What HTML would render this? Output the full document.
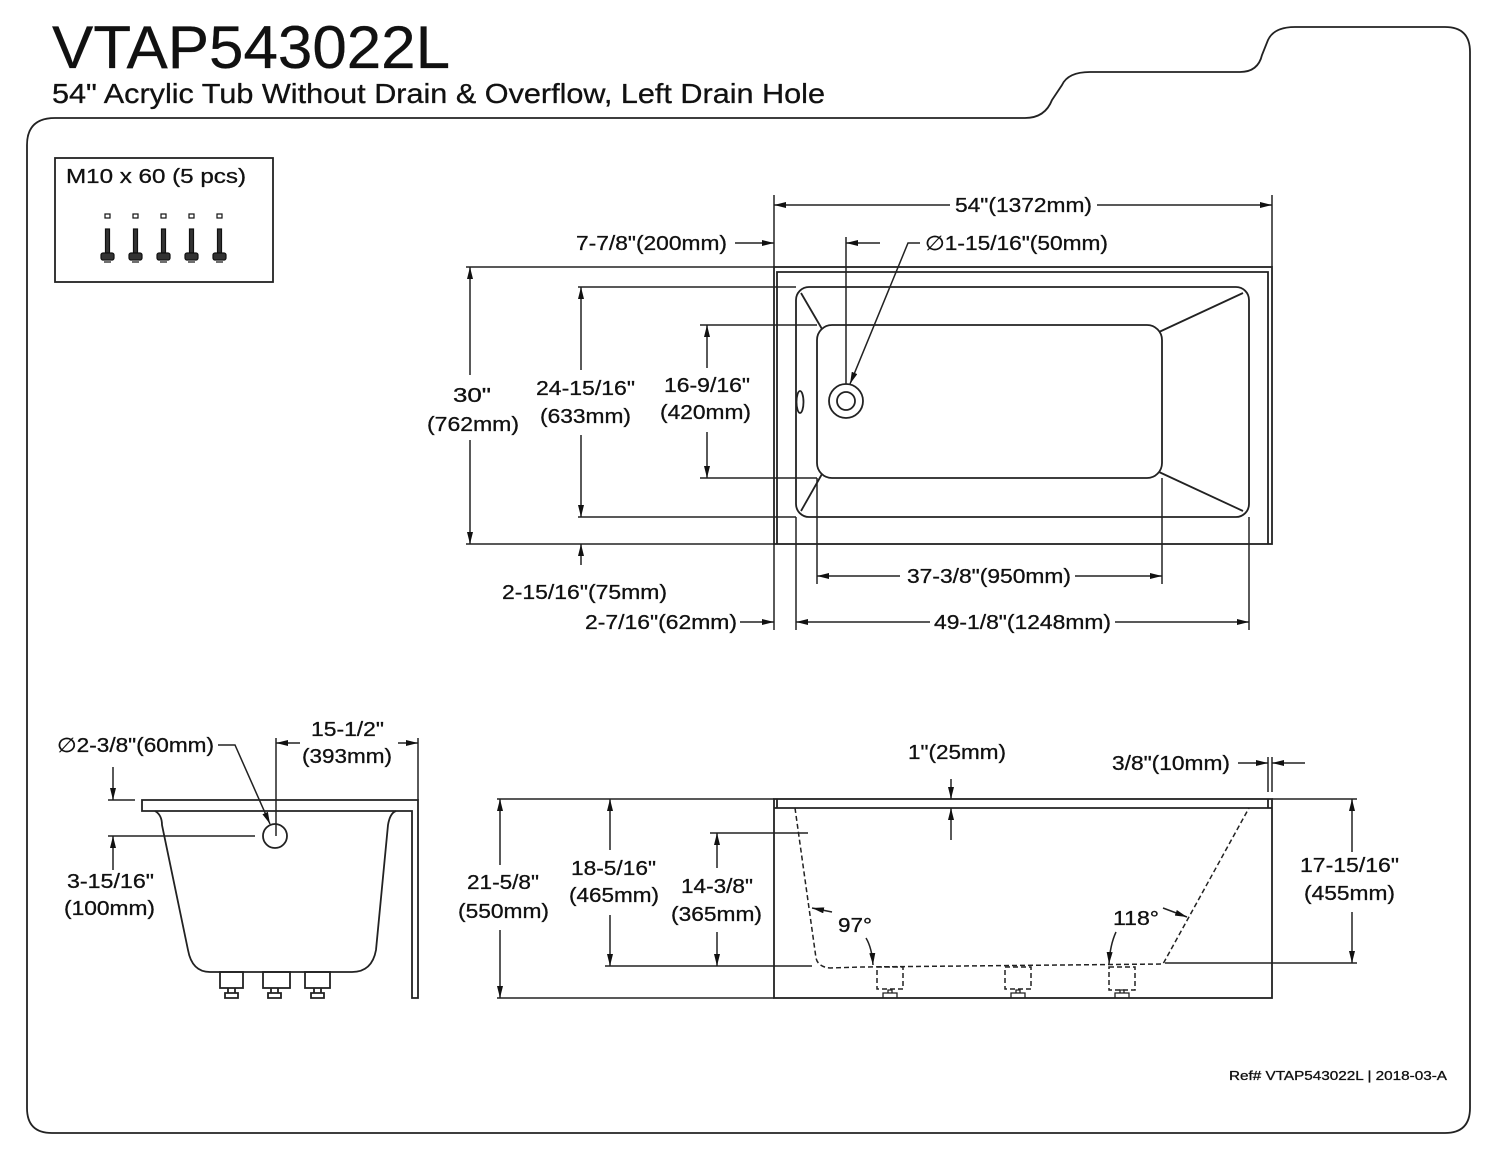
<!DOCTYPE html>
<html><head><meta charset="utf-8"><style>
html,body{margin:0;padding:0;background:#fff;}
svg{display:block;}
text{font-family:"Liberation Sans",sans-serif;fill:#111;stroke:#111;stroke-width:0.3;}
</style></head><body>
<svg width="1500" height="1160" viewBox="0 0 1500 1160" xmlns="http://www.w3.org/2000/svg">
<defs>
<marker id="a" viewBox="0 0 12 6" refX="12" refY="3" markerWidth="12" markerHeight="6" markerUnits="userSpaceOnUse" orient="auto"><path d="M0,0 L12,3 L0,6 Z" fill="#111"/></marker>
</defs>
<g stroke="#222" stroke-width="1.8" fill="none">
<path d="M27,1108 L27,145 Q27,118 55,118 L1025,118 Q1045,118 1052,100 L1062,85 Q1068,72 1090,72 L1240,72 Q1258,72 1262,55 L1268,40 Q1274,27 1295,27 L1445,27 Q1470,27 1470,52 L1470,1108 Q1470,1133 1445,1133 L52,1133 Q27,1133 27,1108 Z"/>
<rect x="55" y="158" width="218" height="124"/>
</g>
<text x="66" y="183" font-size="20" textLength="180" lengthAdjust="spacingAndGlyphs">M10 x 60 (5 pcs)</text>
<g stroke="#111" stroke-width="1.2" fill="#333">
<g id="b"><rect x="105" y="214" width="5" height="4" fill="#fff"/><rect x="105.5" y="229" width="4" height="24"/><rect x="101" y="253" width="13" height="7" rx="2"/><line x1="104" y1="262" x2="111" y2="262"/></g>
<use href="#b" x="28"/><use href="#b" x="56"/><use href="#b" x="84"/><use href="#b" x="112"/>
</g>

<text x="52" y="68" font-size="60" textLength="398" lengthAdjust="spacingAndGlyphs">VTAP543022L</text>
<text x="52" y="103" font-size="28" textLength="773" lengthAdjust="spacingAndGlyphs">54" Acrylic Tub Without Drain &amp; Overflow, Left Drain Hole</text>

<g stroke="#222" stroke-width="1.8" fill="none">
<rect x="774" y="267" width="498" height="277"/>
<path d="M777,544 L777,272 L1268,272 L1268,544"/>
<rect x="796" y="287" width="453" height="230" rx="13"/>
<rect x="817" y="325" width="345" height="153" rx="15"/>
<line x1="801" y1="293" x2="822" y2="329"/>
<line x1="801" y1="511" x2="822" y2="474"/>
<line x1="1243" y1="293" x2="1159" y2="332"/>
<line x1="1243" y1="511" x2="1159" y2="472"/>
<circle cx="846" cy="401" r="17"/>
<circle cx="846" cy="401" r="9"/>
<ellipse cx="800" cy="402" rx="3.5" ry="11"/>
</g>
<g stroke="#222" stroke-width="1.5" fill="none">
<line x1="774" y1="195" x2="774" y2="267"/><line x1="1272" y1="195" x2="1272" y2="267"/>
<line x1="774" y1="544" x2="774" y2="630"/>
<line x1="466" y1="267" x2="774" y2="267"/><line x1="466" y1="544" x2="774" y2="544"/>
<line x1="578" y1="287" x2="796" y2="287"/><line x1="578" y1="517" x2="796" y2="517"/>
<line x1="700" y1="325" x2="817" y2="325"/><line x1="700" y1="478" x2="817" y2="478"/>
<line x1="796" y1="517" x2="796" y2="630"/><line x1="1249" y1="517" x2="1249" y2="630"/>
<line x1="817" y1="478" x2="817" y2="584"/><line x1="1162" y1="478" x2="1162" y2="584"/>
<line x1="846" y1="237" x2="846" y2="384"/>
<line x1="950" y1="205" x2="774" y2="205" marker-end="url(#a)"/><line x1="1097" y1="205" x2="1272" y2="205" marker-end="url(#a)"/>
<line x1="735" y1="243" x2="774" y2="243" marker-end="url(#a)"/>
<line x1="880" y1="243" x2="846" y2="243" marker-end="url(#a)"/>
<path d="M920,243 L908,243 L850,384" marker-end="url(#a)"/>
<line x1="470" y1="375" x2="470" y2="267" marker-end="url(#a)"/><line x1="470" y1="440" x2="470" y2="544" marker-end="url(#a)"/>
<line x1="581" y1="370" x2="581" y2="287" marker-end="url(#a)"/><line x1="581" y1="435" x2="581" y2="517" marker-end="url(#a)"/>
<line x1="581" y1="565" x2="581" y2="544" marker-end="url(#a)"/>
<line x1="707" y1="368" x2="707" y2="325" marker-end="url(#a)"/><line x1="707" y1="432" x2="707" y2="478" marker-end="url(#a)"/>
<line x1="900" y1="576" x2="817" y2="576" marker-end="url(#a)"/><line x1="1075" y1="576" x2="1162" y2="576" marker-end="url(#a)"/>
<line x1="930" y1="622" x2="796" y2="622" marker-end="url(#a)"/><line x1="1115" y1="622" x2="1249" y2="622" marker-end="url(#a)"/>
<line x1="740" y1="622" x2="774" y2="622" marker-end="url(#a)"/>
</g>
<g font-size="20">
<text x="955" y="212" textLength="137" lengthAdjust="spacingAndGlyphs">54"(1372mm)</text>
<text x="576" y="250" textLength="151" lengthAdjust="spacingAndGlyphs">7-7/8"(200mm)</text>
<text x="925" y="250" textLength="183" lengthAdjust="spacingAndGlyphs">∅1-15/16"(50mm)</text>
<text x="453" y="402" textLength="38" lengthAdjust="spacingAndGlyphs">30"</text>
<text x="427" y="431" textLength="92" lengthAdjust="spacingAndGlyphs">(762mm)</text>
<text x="536" y="395" textLength="99" lengthAdjust="spacingAndGlyphs">24-15/16"</text>
<text x="540" y="423" textLength="91" lengthAdjust="spacingAndGlyphs">(633mm)</text>
<text x="664" y="392" textLength="86" lengthAdjust="spacingAndGlyphs">16-9/16"</text>
<text x="660" y="419" textLength="91" lengthAdjust="spacingAndGlyphs">(420mm)</text>
<text x="502" y="599" textLength="165" lengthAdjust="spacingAndGlyphs">2-15/16"(75mm)</text>
<text x="907" y="583" textLength="164" lengthAdjust="spacingAndGlyphs">37-3/8"(950mm)</text>
<text x="585" y="629" textLength="152" lengthAdjust="spacingAndGlyphs">2-7/16"(62mm)</text>
<text x="934" y="629" textLength="177" lengthAdjust="spacingAndGlyphs">49-1/8"(1248mm)</text>
</g>

<g stroke="#222" stroke-width="1.8" fill="none">
<path d="M142,800 L418,800 L418,998 L412,998 L412,811 L142,811 Z"/>
<path d="M155,811 Q162,815 162,825 L188,950 Q192,972 210,972 L352,972 Q372,972 376,950 L388,825 Q390,813 396,811"/>
<circle cx="275" cy="836" r="12"/>
<rect x="220" y="972" width="23" height="16"/><rect x="263" y="972" width="27" height="16"/><rect x="305" y="972" width="25" height="16"/>
<path d="M225,998 L225,993 L238,993 L238,998 Z M228,993 L228,988 M235,993 L235,988"/>
<path d="M268,998 L268,993 L281,993 L281,998 Z M271,993 L271,988 M278,993 L278,988"/>
<path d="M311,998 L311,993 L324,993 L324,998 Z M314,993 L314,988 M321,993 L321,988"/>
</g>
<g stroke="#222" stroke-width="1.5" fill="none">
<line x1="276" y1="738" x2="276" y2="836"/><line x1="418" y1="738" x2="418" y2="800"/>
<line x1="300" y1="743" x2="276" y2="743" marker-end="url(#a)"/><line x1="398" y1="743" x2="418" y2="743" marker-end="url(#a)"/>
<path d="M218,745 L235,745 L270,824" marker-end="url(#a)"/>
<line x1="108" y1="800" x2="135" y2="800"/><line x1="108" y1="836" x2="255" y2="836"/>
<line x1="113" y1="767" x2="113" y2="800" marker-end="url(#a)"/><line x1="113" y1="870" x2="113" y2="836" marker-end="url(#a)"/>
</g>
<g font-size="20">
<text x="57" y="752" textLength="157" lengthAdjust="spacingAndGlyphs">∅2-3/8"(60mm)</text>
<text x="311" y="736" textLength="73" lengthAdjust="spacingAndGlyphs">15-1/2"</text>
<text x="302" y="763" textLength="90" lengthAdjust="spacingAndGlyphs">(393mm)</text>
<text x="67" y="888" textLength="87" lengthAdjust="spacingAndGlyphs">3-15/16"</text>
<text x="64" y="915" textLength="91" lengthAdjust="spacingAndGlyphs">(100mm)</text>
</g>

<g stroke="#222" stroke-width="1.8" fill="none">
<rect x="774" y="799" width="498" height="199"/>
<line x1="774" y1="808" x2="1272" y2="808"/>
<line x1="777" y1="799" x2="777" y2="808"/><line x1="1268" y1="799" x2="1268" y2="808"/>
</g>
<g stroke="#222" stroke-width="1.5" fill="none" stroke-dasharray="5,3">
<path d="M795,808 L816,958 Q818,967 830,968 L862,967 L1163,964 L1249,808"/>
<rect x="877" y="967" width="26" height="22"/><rect x="1005" y="967" width="26" height="22"/><rect x="1109" y="967" width="26" height="23"/>
</g>
<g stroke="#222" stroke-width="1.3" fill="none">
<path d="M883,998 L883,993 L897,993 L897,998 M888,993 L888,990 L892,990 L892,993"/>
<path d="M1011,998 L1011,993 L1025,993 L1025,998 M1016,993 L1016,990 L1020,990 L1020,993"/>
<path d="M1115,998 L1115,993 L1129,993 L1129,998 M1120,993 L1120,990 L1124,990 L1124,993"/>
</g>
<g stroke="#222" stroke-width="1.5" fill="none">
<line x1="497" y1="799" x2="774" y2="799"/><line x1="497" y1="998" x2="774" y2="998"/>
<line x1="605" y1="966" x2="812" y2="966"/>
<line x1="710" y1="833" x2="808" y2="833"/>
<line x1="1272" y1="799" x2="1357" y2="799"/><line x1="1165" y1="963" x2="1357" y2="963"/>
<line x1="500" y1="865" x2="500" y2="799" marker-end="url(#a)"/><line x1="500" y1="930" x2="500" y2="998" marker-end="url(#a)"/>
<line x1="610" y1="850" x2="610" y2="799" marker-end="url(#a)"/><line x1="610" y1="915" x2="610" y2="966" marker-end="url(#a)"/>
<line x1="717" y1="868" x2="717" y2="833" marker-end="url(#a)"/><line x1="717" y1="932" x2="717" y2="966" marker-end="url(#a)"/>
<line x1="1352" y1="852" x2="1352" y2="799" marker-end="url(#a)"/><line x1="1352" y1="912" x2="1352" y2="963" marker-end="url(#a)"/>
<line x1="951" y1="779" x2="951" y2="799" marker-end="url(#a)"/><line x1="951" y1="840" x2="951" y2="808" marker-end="url(#a)"/>
<line x1="1268" y1="757" x2="1268" y2="792"/><line x1="1272" y1="757" x2="1272" y2="792"/>
<line x1="1238" y1="763" x2="1268" y2="763" marker-end="url(#a)"/><line x1="1305" y1="763" x2="1272" y2="763" marker-end="url(#a)"/>
<path d="M832,912 L812,908" marker-end="url(#a)"/>
<path d="M866,938 Q872,948 873,965" marker-end="url(#a)"/>
<path d="M1163,908 L1187,917" marker-end="url(#a)"/>
<path d="M1116,932 Q1110,945 1109,964" marker-end="url(#a)"/>
</g>
<g font-size="20">
<text x="908" y="759" textLength="98" lengthAdjust="spacingAndGlyphs">1"(25mm)</text>
<text x="1112" y="770" textLength="118" lengthAdjust="spacingAndGlyphs">3/8"(10mm)</text>
<text x="467" y="889" textLength="72" lengthAdjust="spacingAndGlyphs">21-5/8"</text>
<text x="458" y="918" textLength="91" lengthAdjust="spacingAndGlyphs">(550mm)</text>
<text x="571" y="875" textLength="85" lengthAdjust="spacingAndGlyphs">18-5/16"</text>
<text x="569" y="902" textLength="90" lengthAdjust="spacingAndGlyphs">(465mm)</text>
<text x="681" y="893" textLength="72" lengthAdjust="spacingAndGlyphs">14-3/8"</text>
<text x="671" y="921" textLength="91" lengthAdjust="spacingAndGlyphs">(365mm)</text>
<text x="838" y="932" textLength="34" lengthAdjust="spacingAndGlyphs">97°</text>
<text x="1113" y="925" textLength="46" lengthAdjust="spacingAndGlyphs">118°</text>
<text x="1300" y="872" textLength="99" lengthAdjust="spacingAndGlyphs">17-15/16"</text>
<text x="1304" y="900" textLength="91" lengthAdjust="spacingAndGlyphs">(455mm)</text>
</g>
<text x="1229" y="1080" font-size="13" textLength="218" lengthAdjust="spacingAndGlyphs">Ref# VTAP543022L | 2018-03-A</text>
</svg>
</body></html>
